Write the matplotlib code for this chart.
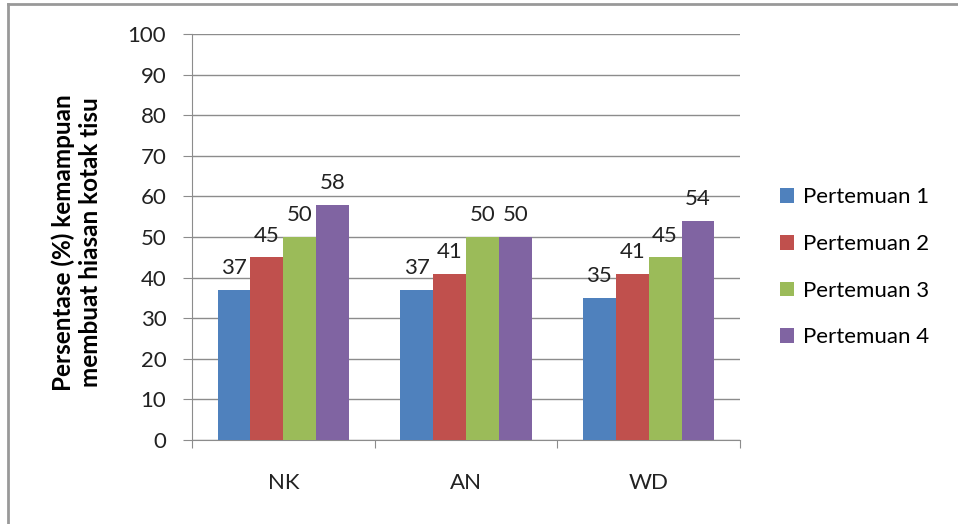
import matplotlib.pyplot as plt
from matplotlib.lines import Line2D
import numpy as np

students = ["NK", "AN", "WD"]
series = ["Pertemuan 1", "Pertemuan 2", "Pertemuan 3", "Pertemuan 4"]
p1 = [37, 37, 35]
p2 = [45, 41, 41]
p3 = [50, 50, 45]
p4 = [58, 50, 54]
yticks = [0, 10, 20, 30, 40, 50, 60, 70, 80, 90, 100]

colors = ["#4f81bd", "#c0504d", "#9bbb59", "#8064a2"]

plt.rcParams['font.family'] = ['Lato', 'DejaVu Sans']

fig = plt.figure(figsize=(9.58, 5.24), dpi=100)
ax = fig.add_axes([0.2004, 0.1603, 0.572, 0.7747])

x = np.arange(len(students))
w = 0.18
for i, vals in enumerate([p1, p2, p3, p4]):
    pos = x + (i - 1.5) * w
    bars = ax.bar(pos, vals, w, color=colors[i], label=series[i], zorder=3)
    for b, v in zip(bars, vals):
        ax.annotate(str(v), (b.get_x() + b.get_width() / 2, v),
                    xytext=(0, 8.5), textcoords='offset points',
                    ha='center', va='bottom', fontsize=16, color='#222222')

ax.set_xlim(-0.5, 2.5)
ax.set_ylim(0, 100)
ax.set_yticks(yticks)
ax.yaxis.grid(True, color='#8c8c8c', linewidth=1, zorder=0)
ax.tick_params(axis='y', length=6.5, color='#8c8c8c', labelsize=16, pad=12,
               labelcolor='#222222')
ax.set_xticks([-0.5, 0.5, 1.5, 2.5])
ax.set_xticklabels([])
ax.tick_params(axis='x', length=6, color='#8c8c8c')
for i, s in enumerate(students):
    ax.text(x[i], -10.6, s, ha='center', va='center', fontsize=16, color='#222222')

for side in ['top', 'right']:
    ax.spines[side].set_visible(False)
for side in ['left', 'bottom']:
    ax.spines[side].set_color('#8c8c8c')

fig.text(0.080, 0.537, "Persentase (%) kemampuan\nmembuat hiasan kotak tisu",
         rotation=90, ha='center', va='center', fontsize=17.5,
         fontweight='bold', linespacing=1.22)

ax.legend(loc='center left', bbox_to_anchor=(1.073, 0.425), frameon=False,
          fontsize=16, handlelength=0.65, handleheight=0.65, handletextpad=0.4,
          labelspacing=1.2, borderaxespad=0, borderpad=0)

fig.add_artist(Line2D([0.0085, 0.0085], [0, 0.993], color='#999999', lw=2))
fig.add_artist(Line2D([0.0085, 1], [0.993, 0.993], color='#999999', lw=2))

fig.savefig("out.png", dpi=100)
